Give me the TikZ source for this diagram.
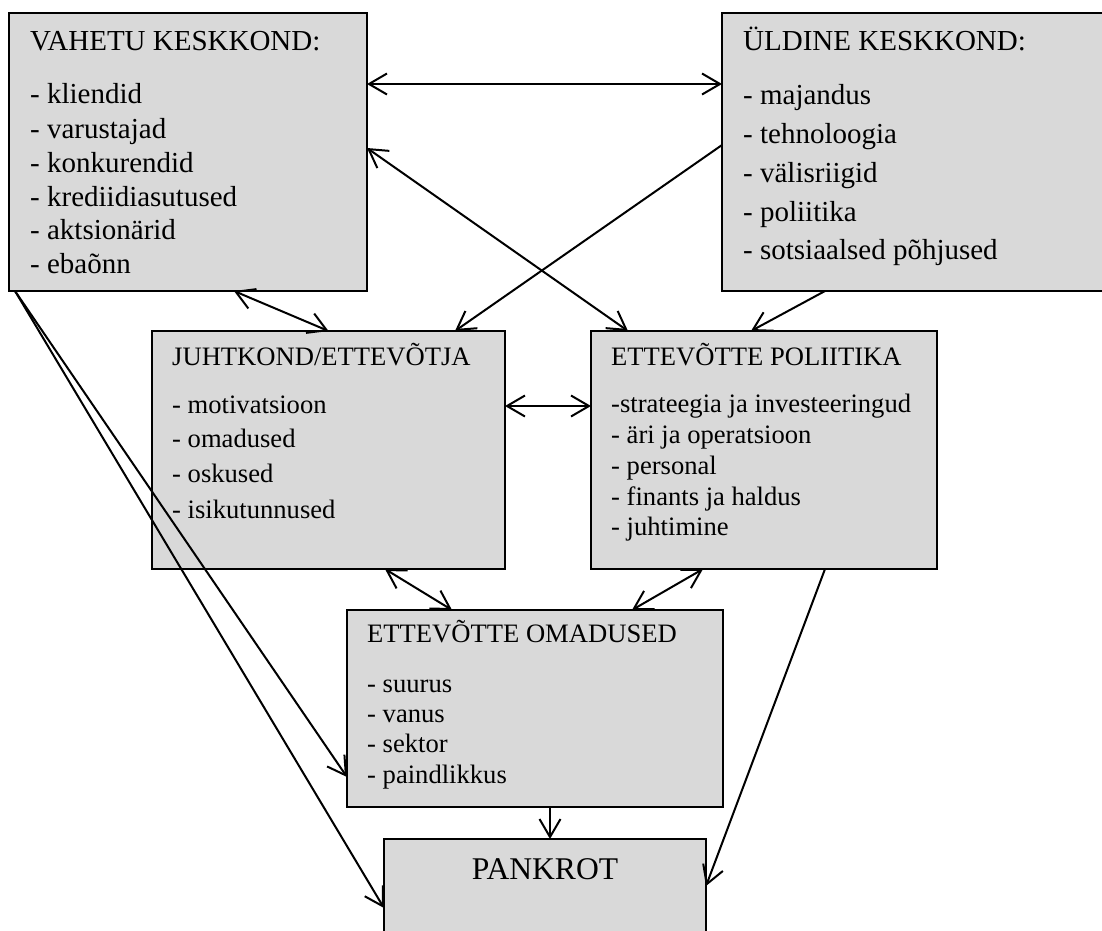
\documentclass[tikz,border=0pt]{standalone}
\usepackage{fontspec}
\setmainfont{Liberation Serif}
\usetikzlibrary{arrows.meta}

\begin{document}
\begin{tikzpicture}[x=1pt,y=-1pt,
  box/.style={draw,line width=1.6pt,fill=gray!30,anchor=north west,outer sep=0pt,inner sep=0pt},
  lbl/.style={anchor=base west,inner sep=0pt,font=\fontsize{29}{34}\selectfont},
  slbl/.style={anchor=base west,inner sep=0pt,font=\fontsize{26.6}{31}\selectfont},
  arr/.style={line width=2pt,-{Straight Barb[length=18pt,width=21pt]}},
  darr/.style={line width=2pt,{Straight Barb[length=18pt,width=21pt]}-{Straight Barb[length=18pt,width=21pt]}}]
\clip (0,0) rectangle (1102,930);
\useasboundingbox (0,0) rectangle (1102,930);

% boxes
\node[box,minimum width=358pt,minimum height=278pt] (vahetu) at (9,13) {};
\node[box,minimum width=388pt,minimum height=278pt] (yldine) at (722,13) {};
\node[box,minimum width=353pt,minimum height=238pt] (juhtkond) at (152,331) {};
\node[box,minimum width=346pt,minimum height=238pt] (poliitika) at (591,331) {};
\node[box,minimum width=376pt,minimum height=197pt] (omadused) at (347,610) {};
\node[box,minimum width=322pt,minimum height=121pt] (pankrot) at (384,839) {};

% vahetu keskkond
\node[lbl] (vahetuT) at (30,50) {VAHETU KESKKOND:};
\node[lbl] (vahetu1) at (30,103) {- kliendid};
\node[lbl] (vahetu2) at (30,138) {- varustajad};
\node[lbl] (vahetu3) at (30,172) {- konkurendid};
\node[lbl] (vahetu4) at (30,206) {- krediidiasutused};
\node[lbl] (vahetu5) at (30,239) {- aktsionärid};
\node[lbl] (vahetu6) at (30,273) {- ebaõnn};

% yldine keskkond
\node[lbl] (yldineT) at (743,50) {ÜLDINE KESKKOND:};
\node[lbl] (yldine1) at (743,104) {- majandus};
\node[lbl] (yldine2) at (743,143) {- tehnoloogia};
\node[lbl] (yldine3) at (743,182) {- välisriigid};
\node[lbl] (yldine4) at (743,221) {- poliitika};
\node[lbl] (yldine5) at (743,259) {- sotsiaalsed põhjused};

% juhtkond
\node[slbl] (juhtkondT) at (172,365) {JUHTKOND/ETTEVÕTJA};
\node[slbl] (juhtkond1) at (172,413) {- motivatsioon};
\node[slbl] (juhtkond2) at (172,447) {- omadused};
\node[slbl] (juhtkond3) at (172,482) {- oskused};
\node[slbl] (juhtkond4) at (172,518) {- isikutunnused};

% ettevotte poliitika
\node[slbl] (poliitikaT) at (611,365) {ETTEVÕTTE POLIITIKA};
\node[slbl] (poliitika1) at (611,412) {-strateegia ja investeeringud};
\node[slbl] (poliitika2) at (611,443) {- äri ja operatsioon};
\node[slbl] (poliitika3) at (611,474) {- personal};
\node[slbl] (poliitika4) at (611,505) {- finants ja haldus};
\node[slbl] (poliitika5) at (611,535) {- juhtimine};

% ettevotte omadused
\node[slbl] (omadusedT) at (367,642) {ETTEVÕTTE OMADUSED};
\node[slbl] (omadused1) at (367,692) {- suurus};
\node[slbl] (omadused2) at (367,722) {- vanus};
\node[slbl] (omadused3) at (367,752) {- sektor};
\node[slbl] (omadused4) at (367,783) {- paindlikkus};

\node[anchor=base,inner sep=0pt,font=\fontsize{31.6}{36}\selectfont] (pankrotT) at (545,879) {PANKROT};

% connectors
\draw[darr] ([yshift=-71pt]vahetu.north east) -- ([yshift=-71pt]yldine.north west);
\draw[darr] ([yshift=4pt]vahetu.east) -- ([xshift=37pt]poliitika.north west);
\draw[arr] ([yshift=7pt]yldine.west) -- ([xshift=-50pt]juhtkond.north east);
\draw[arr] ([xshift=103pt]yldine.south west) -- ([xshift=160pt]poliitika.north west);
\draw[darr] ([xshift=225pt]vahetu.south west) -- (juhtkond.north);
\draw[darr] ([yshift=44pt]juhtkond.east) -- ([yshift=44pt]poliitika.west);
\draw[darr] ([xshift=233pt]juhtkond.south west) -- ([xshift=105pt]omadused.north west);
\draw[darr] ([xshift=112pt]poliitika.south west) -- ([xshift=285pt]omadused.north west);
\draw[arr] ([xshift=203pt]omadused.south west) -- ([xshift=166pt]pankrot.north west);
\draw[arr] ([xshift=234pt]poliitika.south west) -- ([yshift=-47pt]pankrot.north east);
\draw[arr] ([xshift=6pt]vahetu.south west) -- ([yshift=30pt]omadused.south west);
\draw[arr] ([xshift=6pt]vahetu.south west) -- ([yshift=-69pt]pankrot.north west);

\end{tikzpicture}
\end{document}
